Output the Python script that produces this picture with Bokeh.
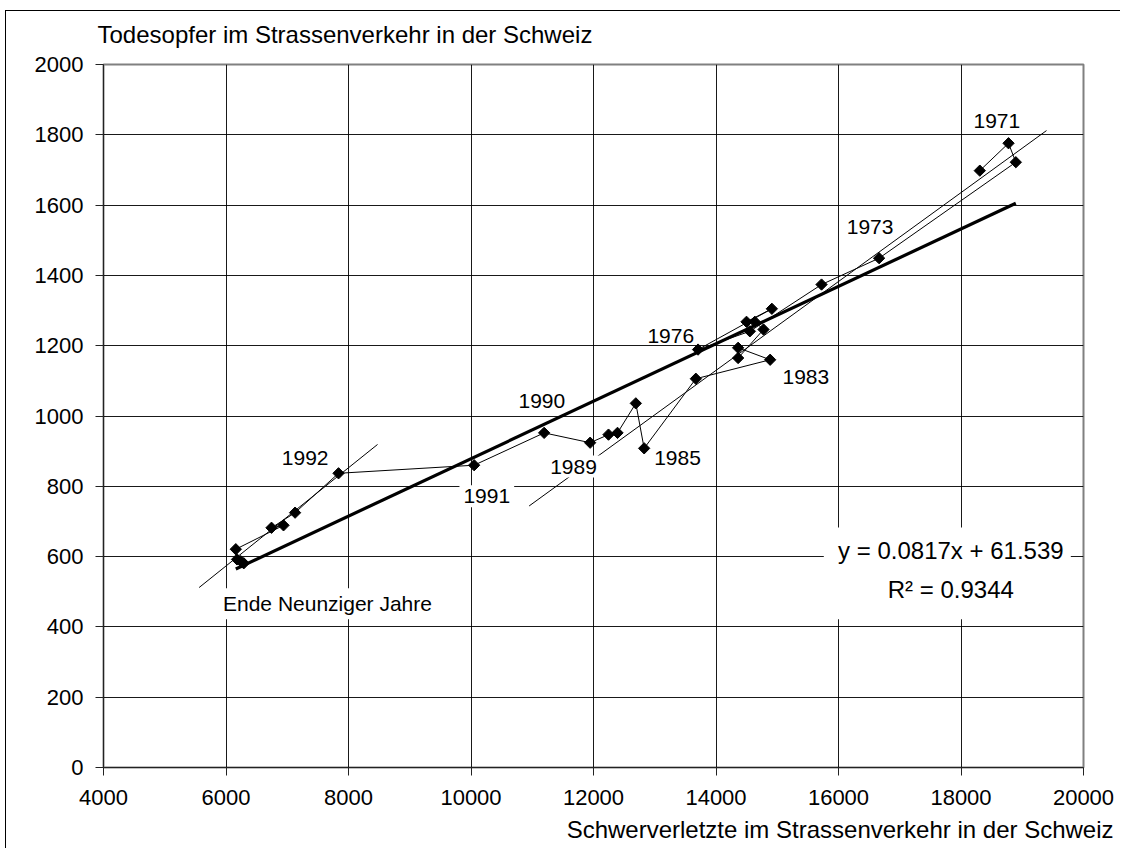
import numpy as np
from bokeh.plotting import figure
from bokeh.models import Range1d, FixedTicker, Label, BoxAnnotation, Title
from bokeh.embed import file_html
from bokeh.resources import INLINE

# ---- data ----
years = list(range(1970, 2000))
injured = [18307, 18776, 18895, 16663, 15723, 14553, 13707, 14912, 14498, 14634,
           14776, 14361, 14361, 14884, 13671, 12827, 12691, 12392, 12245, 11945,
           11194, 10051, 7837, 7128, 6743, 6939, 6160, 6180, 6240, 6290]
deaths = [1698, 1776, 1722, 1449, 1374, 1241, 1189, 1305, 1268, 1268,
          1246, 1165, 1194, 1160, 1106, 908, 1036, 952, 947, 924,
          952, 860, 837, 725, 682, 689, 621, 592, 587, 581]

trend_slope = 0.0817
trend_intercept = 61.539

guide_a_x = [5561, 8474]
guide_a_y = [512, 919]
guide_b_x = [10949, 19396]
guide_b_y = [744, 1812]

x_ticks = list(range(4000, 20001, 2000))
y_ticks = list(range(0, 2001, 200))

year_labels = ["1971", "1973", "1976", "1983", "1990", "1985", "1992"]
year_label_x = [18585, 16516, 13262, 15467, 11156, 13372, 7292]
year_label_y = [1839, 1539, 1229, 1111, 1042, 881, 881]

boxed_labels = ["1989", "1991", "Ende Neunziger Jahre"]
boxed_label_x = [11674, 10258, 7657]
boxed_label_y = [856, 772, 466]

eq_text = ["y = 0.0817x + 61.539", "R\u00b2 = 0.9344"]
eq_x = [17834, 17834]
eq_y = [616, 507]

y_title = "Todesopfer im Strassenverkehr in der Schweiz"
x_title = "Schwerverletzte im Strassenverkehr in der Schweiz"

FONT = "Liberation Sans"

p = figure(width=1120, height=848, output_backend="svg", toolbar_location=None,
           x_range=Range1d(4000, 20000), y_range=Range1d(0, 2000),
           min_border_left=103, min_border_top=64, min_border_right=37, min_border_bottom=80)

# outer chart-area border (left and top edges), drawn behind a transparent border area
p.styles = {"background":
            "linear-gradient(#000,#000) 5px 10px / 1px calc(100% - 10px) no-repeat, "
            "linear-gradient(#000,#000) 5px 10px / calc(100% - 5px) 1px no-repeat, #fff"}
p.border_fill_alpha = 0
p.background_fill_color = "white"
p.outline_line_color = "#808080"
p.outline_line_width = 2

# top title (y quantity)
p.title.text = y_title
p.title.align = "left"
p.title.offset = -6
p.title.text_font = FONT
p.title.text_font_size = "24px"
p.title.text_font_style = "normal"
p.title.text_color = "black"
p.title.standoff = 33

for ax, ticks in ((p.xaxis, x_ticks), (p.yaxis, y_ticks)):
    ax.ticker = FixedTicker(ticks=ticks)
    ax.major_tick_out = 8
    ax.major_tick_in = 0
    ax.minor_tick_line_color = None
    ax.axis_line_color = "#222222"
    ax.major_tick_line_color = "#222222"
    ax.major_label_text_font = FONT
    ax.major_label_text_font_size = "22px"
    ax.major_label_text_color = "black"
p.xaxis.major_label_standoff = 14
p.yaxis.major_label_standoff = 12

# bottom title (x quantity), right aligned
p.add_layout(Title(text=x_title, align="right", offset=-30, text_font=FONT,
                   text_font_size="24px", text_font_style="normal",
                   text_color="black", standoff=12), "below")

p.xgrid.grid_line_color = "black"
p.ygrid.grid_line_color = "black"
p.xgrid.grid_line_alpha = 0.9
p.ygrid.grid_line_alpha = 0.9

# hand-drawn guide lines
p.line(guide_a_x, guide_a_y, line_color="black", line_width=1)
p.line(guide_b_x, guide_b_y, line_color="black", line_width=1)

# yearly path
p.line(injured, deaths, line_color="black", line_width=1)

# linear trend
tx = np.array([min(injured), max(injured)], dtype=float)
p.line(tx, trend_slope * tx + trend_intercept, line_color="black", line_width=3.2)

# markers
p.scatter(injured, deaths, marker="square", angle=np.pi / 4, size=8,
          fill_color="black", line_color="black")

# labels
for t, x, y in zip(year_labels, year_label_x, year_label_y):
    p.add_layout(Label(x=x, y=y, text=t, text_font=FONT, text_font_size="21px",
                       text_align="center", text_baseline="middle", text_color="black"))
for t, x, y in zip(boxed_labels, boxed_label_x, boxed_label_y):
    p.add_layout(Label(x=x, y=y, text=t, text_font=FONT, text_font_size="21px",
                       text_align="center", text_baseline="middle", text_color="black",
                       background_fill_color="white", padding=4))

p.add_layout(BoxAnnotation(left=15760, right=19793, bottom=422, top=683,
                           fill_color="white", fill_alpha=1.0, line_color=None))
for t, x, y in zip(eq_text, eq_x, eq_y):
    p.add_layout(Label(x=x, y=y, text=t, text_font=FONT, text_font_size="24px",
                       text_align="center", text_baseline="middle", text_color="black"))

open("out.html", "w").write(file_html(p, INLINE))
